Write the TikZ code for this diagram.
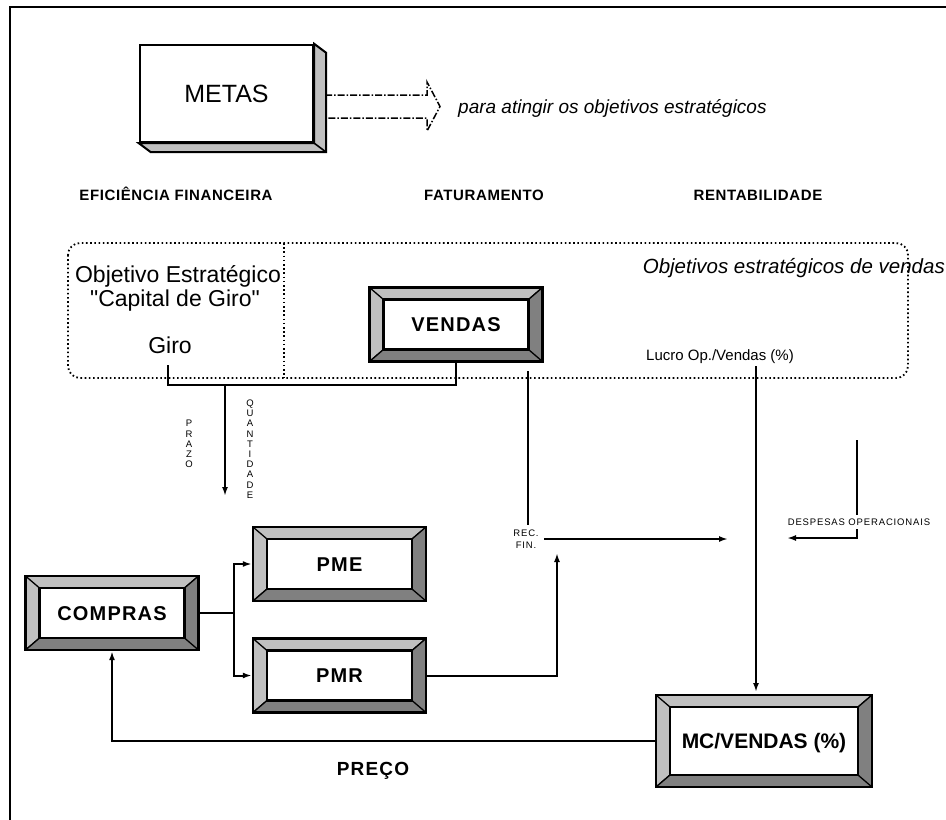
\documentclass[tikz,border=0pt]{standalone}
\usepackage{fontspec}
\setmainfont{Liberation Sans}[Ligatures=TeXOff]
\usetikzlibrary{arrows.meta}
\definecolor{bvlight}{HTML}{C0C0C0}
\definecolor{bvdark}{HTML}{808080}
\newcommand{\fsz}[1]{\fontsize{#1}{#1}\selectfont}

\tikzset{
  conn/.style={line width=2pt},
  arr/.style={conn, -{Latex[length=9pt,width=6pt]}},
  dots/.style={line width=1.8pt, dash pattern=on 1.6pt off 2.6pt},
  hdr/.style={font=\fsz{15}\bfseries\addfontfeatures{LetterSpace=4}, anchor=base, inner sep=0pt},
  itl/.style={font=\fsz{19}\itshape, inner sep=0pt},
  big/.style={font=\fsz{23}, anchor=base, inner sep=0pt},
  small/.style={font=\fontsize{9.5}{12}\selectfont\addfontfeatures{LetterSpace=9}, inner sep=0pt},
  vert/.style={font=\fontsize{9.5}{10.2}\selectfont, align=center, inner sep=0pt},
  bevel/.style={draw, line width=2.4pt, fill=white, inner sep=0pt,
    minimum width=173pt, minimum height=74pt, text depth=0pt, text height=14.4pt,
    font=\fsz{20}\bfseries\addfontfeatures{LetterSpace=6},
    path picture={
      \coordinate (bA) at (path picture bounding box.north west);
      \coordinate (bB) at (path picture bounding box.north east);
      \coordinate (bC) at (path picture bounding box.south east);
      \coordinate (bD) at (path picture bounding box.south west);
      \coordinate (ba) at ([xshift=14pt,yshift=-12pt]bA);
      \coordinate (bb) at ([xshift=-14pt,yshift=-12pt]bB);
      \coordinate (bc) at ([xshift=-14pt,yshift=12pt]bC);
      \coordinate (bd) at ([xshift=14pt,yshift=12pt]bD);
      \filldraw[fill=bvlight, draw=black, line width=1.3pt]
        (bA) -- (bB) -- (bb) -- (ba) -- cycle
        (bA) -- (ba) -- (bd) -- (bD) -- cycle;
      \filldraw[fill=bvdark, draw=black, line width=1.3pt]
        (bB) -- (bC) -- (bc) -- (bb) -- cycle
        (bD) -- (bC) -- (bc) -- (bd) -- cycle;
      \filldraw[fill=white, draw=black, line width=2.4pt] (ba) rectangle (bc);
    }},
}

\begin{document}
\begin{tikzpicture}[x=1pt, y=-1pt]
\useasboundingbox (0,0) rectangle (946,820);
\fill[white] (0,0) rectangle (946,820);

% outer frame (top and left edges)
\draw[line width=2pt] (10,820) -- (10,7) -- (946,7);

% METAS block with its extruded side
\node[draw, line width=2.4pt, fill=white, minimum width=173pt, minimum height=97pt,
      inner sep=0pt, font=\fsz{25}, text depth=0pt, text height=18pt] (metas) at (226.5,93.5) {METAS};
\filldraw[fill=bvlight, draw=black, line width=2pt, line join=miter]
  (metas.north east) -- ([shift={(12,9)}]metas.north east) -- ([shift={(12,9)}]metas.south east)
  -- ([shift={(12,9)}]metas.south west) -- (metas.south west) -- (metas.south east) -- cycle;
\draw[line width=1.6pt] (metas.south east) -- ([shift={(12,9)}]metas.south east);

% hollow dash-dot arrow
\coordinate (arrL) at (325,106.5);
\draw[line width=1.5pt, dash pattern=on 7pt off 2pt on 1.5pt off 2pt]
  ([yshift=11.5pt]arrL) -- (427,95) -- (427,82) -- (440,106.5) -- (427,131) -- (427,118) -- ([yshift=-11.5pt]arrL);
\node[itl, anchor=base west] (para) at (458,113) {para atingir os objetivos estratégicos};

% column headers
\node[hdr] (hEF) at (176,200) {EFICIÊNCIA FINANCEIRA};
\node[hdr] (hFA) at (484,200) {FATURAMENTO};
\node[hdr] (hRE) at (758,200) {RENTABILIDADE};

% dotted group of strategic objectives
\draw[dots, rounded corners=12pt] (68,243) rectangle (908,378);
\draw[dots] (284,243) -- (284,378);
\node[itl, font=\fsz{20.5}\itshape, anchor=base east] (objv) at (945,273) {Objetivos estratégicos de vendas};

\node[big] (obj1) at (178,282) {Objetivo Estratégico};
\node[big] (obj2) at (175,306) {"Capital de Giro"};
\node[big] (giro) at (170,353) {Giro};

\node[bevel] (vendas) at (456,324.5) {VENDAS};
\node[font=\fsz{15}, anchor=base, inner sep=0pt] (lucro) at (720,360) {Lucro Op./Vendas (\%)};

% Giro -- VENDAS joint
\coordinate (giroOut) at (168,365);
\draw[conn] (giroOut) -- (168,385) -| (vendas.south);

% PRAZO / QUANTIDADE arrow
\coordinate (downTop) at (225,385);
\coordinate (downEnd) at (225,496);
\draw[arr] (downTop) -- (downEnd);
\node[vert] (prazo) at (189,444) {P\\R\\A\\Z\\O};
\node[vert] (quant) at (250,449) {Q\\U\\A\\N\\T\\I\\D\\A\\D\\E};

% purchasing boxes
\node[bevel] (compras) at (112,613) {COMPRAS};
\node[bevel] (pme) at (339.5,564) {PME};
\node[bevel] (pmr) at (339.5,675.5) {PMR};
\node[bevel, minimum width=216pt, minimum height=92pt, font=\fsz{21}\bfseries, text height=15pt]
  (mc) at (764,741) {MC/VENDAS (\%)};

\draw[conn] (compras.east) -- ++(34,0) coordinate (split);
\draw[arr] (split) |- (pme.west);
\draw[arr] (split) |- (pmr.west);

% financial revenue
\coordinate (recTop) at (528,371);
\coordinate (recBot) at (528,525);
\draw[conn] (recTop) -- (recBot);
\node[small, align=center] (recfin) at (526,539) {REC.\\FIN.};
\coordinate (recIn) at (557,553);
\draw[arr] (pmr.east) -| (recIn);
\coordinate (recOut) at (544,539);
\coordinate (recTip) at (728,539);
\draw[arr] (recOut) -- (recTip);

% operating margin
\coordinate (lucroTop) at (756,366);
\coordinate (lucroTip) at (756,692);
\draw[arr] (lucroTop) -- (lucroTip);

% operating expenses (label masks the line behind it)
\coordinate (despTop) at (857,440);
\coordinate (despCorner) at (857,538);
\coordinate (despTip) at (787,538);
\draw[arr] (despTop) -- (despCorner) -- (despTip);
\node[small, fill=white, inner ysep=4pt, inner xsep=0pt] (desp) at (859,522) {DESPESAS OPERACIONAIS};

% price feedback
\draw[arr] (mc.west) -| (compras.south);
\node[font=\fsz{19}\bfseries\addfontfeatures{LetterSpace=6}, anchor=base, inner sep=0pt] (preco) at (373,775) {PREÇO};
\end{tikzpicture}
\end{document}
